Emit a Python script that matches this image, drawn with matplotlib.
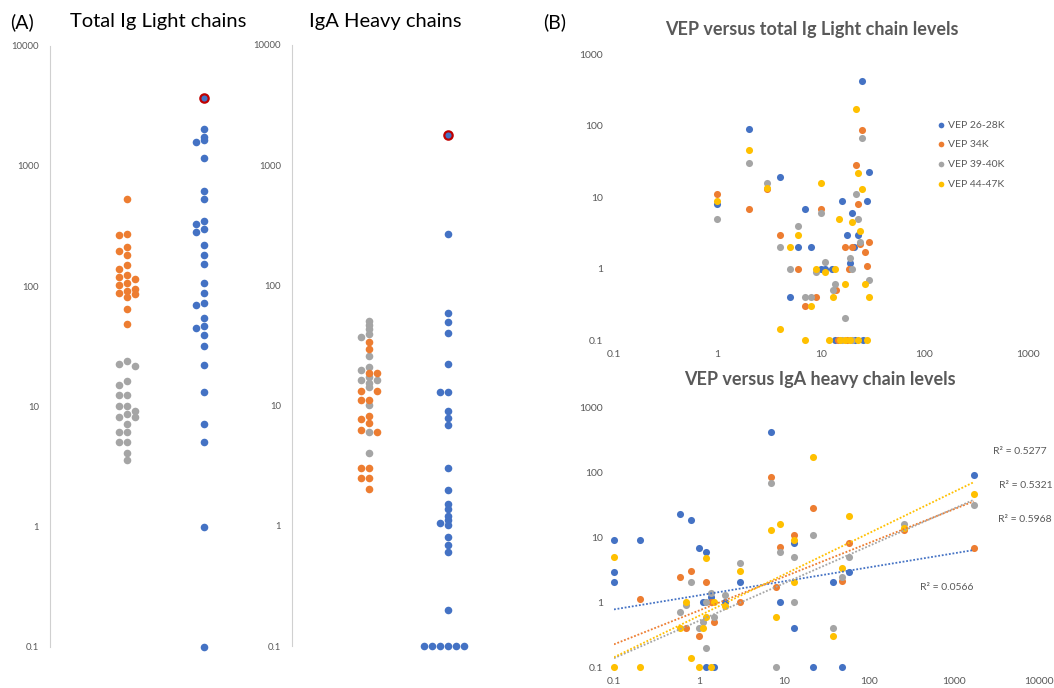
import numpy as np
import matplotlib
matplotlib.use("Agg")
import matplotlib.pyplot as plt

plt.rcParams['font.family'] = ['Lato', 'DejaVu Sans']

BLUE, ORANGE, GRAY, GOLD = "#4472C4", "#ED7D31", "#A5A5A5", "#FFC000"
TXT = "#595959"
W, H = 1054, 688

# ---- panel A: dot columns ----
light_orange = [531, 273, 268, 210, 194, 180, 149, 138, 124, 119, 114, 106, 103,
                94, 91, 87.5, 86, 81, 65, 48.5]
light_gray = [23.7, 22.7, 21.5, 16.3, 15.2, 12.4, 12.4, 10.1, 10.1, 9.2, 8.6, 8.2,
              8.2, 7.1, 6.1, 6.1, 5.05, 5.05, 4.08, 3.57]
light_blue = [3640, 2030, 1745, 1636, 1565, 1166, 619, 531, 348, 331, 298, 284, 221,
              180, 152, 106, 88, 72, 69.5, 54.5, 47, 44.7, 39.3, 31.5, 22.1, 13.2,
              7.1, 5.05, 1, 0.1]
heavy_gray = [50.8, 47, 43, 39.3, 36.9, 26, 21.1, 19.8, 17.2, 16.3, 16.3, 15.3, 14.2,
              10.1, 6.0, 4.0]
heavy_orange = [33.5, 29.5, 18.5, 18.5, 13.3, 13.3, 11.2, 11.2, 8.2, 7.76, 7.1, 6.29,
                6.0, 3.04, 3.04, 2.51, 2.51, 2.04]
heavy_blue = [1778, 268, 58.8, 49.4, 39.8, 22.2, 13.1, 13.1, 9.1, 7.95, 6.9, 3.0, 2.0,
              1.52, 1.38, 1.2, 1.12, 1.06, 1.02, 0.805, 0.695, 0.6, 0.2,
              0.1, 0.1, 0.1, 0.1, 0.1, 0.1]

series_names = ["VEP 26-28K", "VEP 34K", "VEP 39-40K", "VEP 44-47K"]
series_colors = [BLUE, ORANGE, GRAY, GOLD]

# ---- panel B top: VEP vs total Ig light chain ----
lt_blue_x = [1, 2, 4, 5, 6, 7, 8, 10, 11, 12.7, 16, 18, 19, 20, 21, 23, 25, 28, 29,
             13.7, 21.4, 25.7]
lt_blue_y = [7.9, 90, 19, 0.4, 2.0, 6.9, 2.0, 1.0, 1.0, 1.0, 8.9, 2.95, 1.2, 6.0, 2.0,
             2.95, 420, 8.9, 22.5, 0.1, 0.1, 0.1]
lt_orange_x = [1, 2, 3, 4, 6, 7, 9, 10, 14, 17, 18.7, 20, 21.7, 23, 24, 25, 27, 28, 29,
               14.5, 18]
lt_orange_y = [11, 6.9, 12.8, 2.95, 1.0, 0.295, 0.4, 6.9, 0.5, 2.0, 1.0, 2.0, 28.5, 7.9,
               2.2, 86, 1.7, 1.1, 2.38, 0.1, 0.1]
lt_gray_x = [1, 2, 3, 4, 5, 6, 7, 8, 9, 10, 11, 13, 13.6, 17, 19.2, 20, 21.7, 23, 24,
             25, 29, 16, 20]
lt_gray_y = [4.95, 30, 15.7, 2.0, 1.0, 4.0, 0.4, 0.4, 0.89, 6.0, 1.25, 0.5, 0.6, 0.2,
             1.4, 1.0, 11.1, 4.95, 2.36, 67, 0.69, 0.1, 0.1]
lt_gold_x = [1, 2, 3, 4, 5, 6, 7, 8, 9, 10, 11, 11.9, 13, 13.7, 15, 15.3, 17, 17.2,
             19.2, 20, 21.7, 23, 23, 24, 25, 27, 27.7, 29]
lt_gold_y = [8.9, 45.5, 13.5, 0.141, 2.0, 2.95, 0.1, 0.295, 1.0, 15.7, 0.89, 0.1, 0.4,
             1.0, 4.95, 0.1, 0.6, 0.1, 0.1, 4.55, 174, 21.8, 0.1, 3.4, 12.9, 0.6, 0.1, 0.4]

# ---- panel B bottom: VEP vs IgA heavy chain ----
hv_blue_x = [0.1, 0.1, 0.1, 0.2, 0.6, 0.8, 1.0, 1.2, 1.1, 1.4, 2.0, 3.0, 7.0, 9.0, 13,
             13, 22, 38, 48, 58, 1700, 1.2, 1.5]
hv_blue_y = [9.2, 2.97, 2.04, 9.2, 23, 18.8, 6.97, 6.04, 1.0, 1.22, 1.0, 2.04, 427, 1.0,
             8.1, 0.4, 0.1, 2.04, 0.1, 2.97, 93, 0.1, 0.1]
hv_orange_x = [0.2, 0.6, 0.8, 0.7, 1.0, 1.2, 1.4, 1.5, 3.0, 7.0, 8.0, 9.0, 13, 22, 48,
               58, 260, 1700]
hv_orange_y = [1.12, 2.44, 3.01, 0.4, 0.303, 2.04, 1.0, 0.505, 1.0, 86.5, 1.71, 7.06,
               11, 28.5, 2.16, 8.15, 13.1, 6.97]
hv_gray_x = [0.6, 0.7, 0.8, 1.0, 1.1, 1.2, 1.2, 1.4, 1.5, 2.0, 3.0, 7.0, 8.0, 9.0, 13,
             13, 22, 38, 48, 58, 260, 1700]
hv_gray_y = [0.71, 0.91, 2.04, 0.4, 0.505, 1.0, 0.196, 1.41, 0.6, 1.3, 4.0, 68.4, 0.1,
             6.04, 5.06, 1.0, 10.9, 0.4, 2.44, 5.0, 16.1, 31.6]
hv_gold_x = [0.1, 0.1, 0.2, 0.6, 0.7, 0.8, 1.0, 1.1, 1.2, 1.2, 1.4, 1.5, 2.0, 3.0, 7.0,
             8.0, 9.0, 13, 13, 22, 38, 48, 58, 260, 1700]
hv_gold_y = [5.06, 0.1, 0.1, 0.4, 1.0, 0.138, 0.1, 0.4, 4.78, 0.6, 0.1, 1.0, 0.88, 3.01,
             13.1, 0.6, 16.1, 9.3, 2.04, 176, 0.303, 3.43, 21.7, 13.9, 46.8]

# power trendlines as drawn in the source (value at x = 0.1 and at x = 1700)
trend_x = [0.1, 1700]
trend_blue = [0.78, 6.4]
trend_orange = [0.226, 36]
trend_gray = [0.138, 38]
trend_gold = [0.143, 71]
r2_labels = ["R\u00b2 = 0.5277", "R\u00b2 = 0.5321", "R\u00b2 = 0.5968", "R\u00b2 = 0.0566"]

log_ticks = [0.1, 1, 10, 100, 1000, 10000]
log_labels = ["0.1", "1", "10", "100", "1000", "10000"]


def fbox(left, top, right, bottom):
    """pixel box -> figure fraction rect"""
    return [left / W, 1 - bottom / H, (right - left) / W, (bottom - top) / H]


def swarm_slots(values, px_per_dec, gap, max_slot):
    """Simple beeswarm: first free slot 0,-1,+1,... ; if none is free, the least crowded."""
    ypx = np.log10(values) * px_per_dec
    cand = [0]
    for k in range(1, max_slot + 1):
        cand += [-k, k]
    placed = {c: [] for c in cand}
    slots = []
    for y in ypx:
        dmin = [min([abs(y - p) for p in placed[c]], default=1e9) for c in cand]
        free = [c for c, d in zip(cand, dmin) if d >= gap]
        c = free[0] if free else cand[int(np.argmax(dmin))]
        placed[c].append(y)
        slots.append(c)
    return np.array(slots)


def dot_column(ax, groups, col, step_px, gap, max_slot=3):
    vals = np.concatenate([g[0] for g in groups])
    ppd = ax.bbox.height / 5.0
    slots = swarm_slots(vals, ppd, gap, max_slot)
    unit_px = ax.bbox.width / (ax.get_xlim()[1] - ax.get_xlim()[0])
    xs = col + slots * step_px / unit_px
    i = 0
    for v, c in groups:
        n = len(v)
        ax.scatter(xs[i:i + n], v, s=30, color=c, lw=0, zorder=3, clip_on=False)
        i += n
    return xs


fig = plt.figure(figsize=(W / 100, H / 100), dpi=100)


def style_a(ax):
    ax.set_yscale("log")
    ax.set_ylim(0.1, 10000)
    ax.set_yticks(log_ticks, log_labels)
    ax.minorticks_off()
    ax.set_xticks([])
    for s in ["top", "right", "bottom"]:
        ax.spines[s].set_visible(False)
    ax.spines["left"].set_color("#D0D0D0")
    ax.tick_params(axis="y", length=0, pad=8, labelsize=6.8, labelcolor=TXT)
    ax.patch.set_alpha(0)


axA1 = fig.add_axes(fbox(50, 45.5, 250, 647))
axA1.set_xlim(0, 2.6)
style_a(axA1)
dot_column(axA1, [(np.array(light_orange), ORANGE), (np.array(light_gray), GRAY)],
           1, 8, 6.5, max_slot=1)
xb = dot_column(axA1, [(np.array(light_blue), BLUE)], 2, 8, 3.0)
imax = int(np.argmax(light_blue))
axA1.scatter([xb[imax]], [light_blue[imax]], s=36, color=BLUE, edgecolor="#C00000",
             lw=1.6, zorder=4)

axA2 = fig.add_axes(fbox(292, 45, 522, 646))
axA2.set_xlim(0.03, 2.94)
style_a(axA2)
dot_column(axA2, [(np.array(heavy_gray), GRAY), (np.array(heavy_orange), ORANGE)],
           1, 8, 3.6, max_slot=1)
xb = dot_column(axA2, [(np.array(heavy_blue), BLUE)], 2, 8, 3.0)
imax = int(np.argmax(heavy_blue))
axA2.scatter([xb[imax]], [heavy_blue[imax]], s=36, color=BLUE, edgecolor="#C00000",
             lw=1.6, zorder=4)

fig.text(22 / W, 1 - 22 / H, "(A)", fontsize=14, ha="center", va="center")
fig.text(158 / W, 1 - 22 / H, "Total Ig Light chains", fontsize=14.5, ha="center", va="center")
fig.text(385 / W, 1 - 22 / H, "IgA Heavy chains", fontsize=14.5, ha="center", va="center")
fig.text(555 / W, 1 - 22 / H, "(B)", fontsize=14, ha="center", va="center")


def style_b(ax, xmax):
    ax.set_xscale("log")
    ax.set_yscale("log")
    ax.set_xlim(0.1, xmax)
    ax.set_ylim(0.1, 1000)
    xt = [t for t in log_ticks if t <= xmax]
    ax.set_xticks(xt, log_labels[:len(xt)])
    ax.set_yticks(log_ticks[:5], log_labels[:5])
    ax.minorticks_off()
    for s in ax.spines.values():
        s.set_visible(False)
    ax.tick_params(length=0, labelsize=7.5, labelcolor=TXT)
    ax.tick_params(axis="y", pad=8)
    ax.tick_params(axis="x", pad=7)
    ax.patch.set_alpha(0)


axB1 = fig.add_axes(fbox(614, 54.3, 1027.7, 340))
style_b(axB1, 1000)
top_sets = [(lt_blue_x, lt_blue_y), (lt_orange_x, lt_orange_y),
            (lt_gray_x, lt_gray_y), (lt_gold_x, lt_gold_y)]
handles = []
for (x, y), c, name in zip(top_sets, series_colors, series_names):
    handles.append(axB1.scatter(x, y, s=26, color=c, lw=0, label=name, zorder=3,
                                clip_on=False))
fig.text(812 / W, 1 - 29 / H, "VEP versus total Ig Light chain levels", fontsize=13,
         fontweight="bold", color=TXT, ha="center", va="center")
fig.legend(handles=handles, loc="upper left", bbox_to_anchor=(930 / W, 1 - 115 / H),
           frameon=False, fontsize=7.5, labelcolor=TXT, handletextpad=0.05,
           labelspacing=1.0, markerscale=0.8, borderpad=0, handlelength=1.2)

axB2 = fig.add_axes(fbox(614, 407.7, 1039, 667.3))
style_b(axB2, 10000)
bot_sets = [(hv_blue_x, hv_blue_y), (hv_orange_x, hv_orange_y),
            (hv_gray_x, hv_gray_y), (hv_gold_x, hv_gold_y)]
for (x, y), c in zip(bot_sets, series_colors):
    axB2.scatter(x, y, s=26, color=c, lw=0, zorder=3, clip_on=False)
for ty, c in zip([trend_blue, trend_orange, trend_gray, trend_gold], series_colors):
    axB2.plot(trend_x, ty, color=c, lw=1.3, ls=(0, (1, 1)), zorder=4)
fig.text(820 / W, 1 - 380 / H, "VEP versus IgA heavy chain levels", fontsize=13,
         fontweight="bold", color=TXT, ha="center", va="center")
for lab, (px, py) in zip(r2_labels, [(1020, 452), (1026, 485), (1025, 519), (947, 587)]):
    fig.text(px / W, 1 - py / H, lab, fontsize=7.5, color=TXT, ha="center", va="center")

fig.savefig("out.png", dpi=100)
